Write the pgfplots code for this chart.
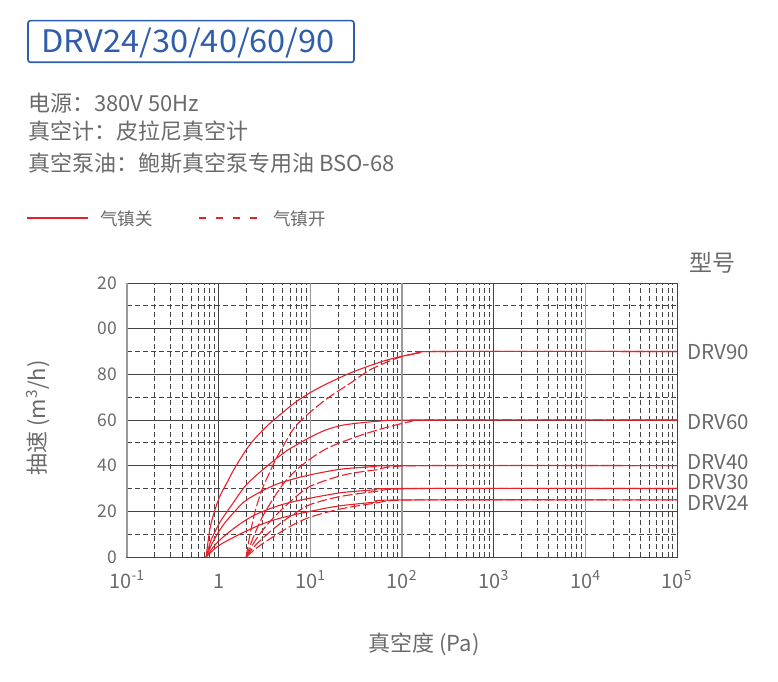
\documentclass[border=0pt]{standalone}
\usepackage{fontspec}
\setmainfont{Noto Sans CJK SC}
\usepackage{pgfplots}
\pgfplotsset{compat=1.18}
\definecolor{txtgray}{HTML}{6A6A6A}
\definecolor{titleblue}{HTML}{2E5DAA}
\definecolor{curvered}{HTML}{E8202A}
\definecolor{griddark}{HTML}{444444}
\definecolor{gridlight}{HTML}{9A9A9A}
\newcommand{\fs}[1]{\fontsize{#1}{#1}\selectfont}
\begin{document}
\begin{tikzpicture}[x=1pt,y=1pt]
\path[use as bounding box] (0,0) rectangle (778,681);
% title box
\draw[titleblue, line width=1.6pt, rounded corners=2.5pt] (28,660.3) rectangle (354,618.7);
\node[anchor=base west, inner sep=0pt, text=titleblue] at (41,628.6) {\scalebox{1.05}[1]{\fs{31}DRV24/30/40/60/90}};
% header
\node[anchor=west, inner sep=0pt, text=txtgray] at (28,577.5) {\fs{22}电源：380V 50Hz};
\node[anchor=west, inner sep=0pt, text=txtgray] at (28,549.5) {\fs{22}真空计：皮拉尼真空计};
\node[anchor=west, inner sep=0pt, text=txtgray] at (28,518) {\fs{22}真空泵油：鲍斯真空泵专用油 BSO-68};
% legend
\draw[curvered, line width=1.1pt] (27,463) -- (88,463);
\node[anchor=west, inner sep=0pt, text=txtgray] at (100,462) {\fs{17.5}气镇关};
\draw[curvered, line width=1.1pt, dash pattern=on 7pt off 10pt] (199,463) -- (262,463);
\node[anchor=west, inner sep=0pt, text=txtgray] at (273,462) {\fs{17.5}气镇开};
% model header
\node[anchor=west, inner sep=0pt, text=txtgray] at (689,418) {\fs{23}型号};
\begin{axis}[
  at={(127pt,124pt)}, anchor=south west, scale only axis,
  width=550pt, height=274pt,
  xmode=log, xmin=0.1, xmax=1e5, ymin=0, ymax=120,
  xtick={0.1,1,10,100,1000,10000,100000},
  xticklabels={10\textsuperscript{-1},1,10\textsuperscript{1},10\textsuperscript{2},10\textsuperscript{3},10\textsuperscript{4},10\textsuperscript{5}},
  ytick={0,20,...,120}, yticklabels={0,20,40,60,80,00,20},
  minor ytick={10,30,...,110},
  grid=both,
  major grid style={griddark, line width=1pt},
  minor grid style={griddark, line width=0.8pt, dash pattern=on 5pt off 3pt},
  axis line style={griddark, line width=1pt},
  tick style={draw=none},
  xticklabel style={font=\fs{20}, text=txtgray, anchor=base, inner sep=0pt, yshift=-31pt},
  yticklabel style={font=\fs{17.5}, text=txtgray, anchor=east, inner sep=0pt, xshift=-10pt},
  extra x ticks={0.1,10,100,10000},
  extra x tick labels={},
  extra x tick style={grid=major, major grid style={gridlight, line width=1.6pt}},
  clip=false,
]
% solid (gas ballast closed)
\addplot[curvered, line width=1.1pt, smooth] coordinates {(0.73,0)(0.8,12)(0.9,20)(1.04,27)(1.25,33)(1.45,38)(2,47)(2.5,52)(3.5,58)(4.9,63)(7,68)(10,72)(14.5,75.5)(27,80.5)(50,84.5)(80,87)(150,89.3)(250,90)(1e5,90)};
\addplot[curvered, line width=1.1pt, smooth] coordinates {(0.73,0)(0.82,7)(0.95,12.5)(1.08,16.5)(1.4,23)(1.94,31)(2.7,36.5)(3.8,41.5)(5.5,46.5)(7,49)(10,52.5)(14.5,55.5)(23,57.8)(53,59.4)(150,60)(1e5,60)};
\addplot[curvered, line width=1.1pt, smooth] coordinates {(0.73,0)(0.85,6)(1.0,11)(1.17,15)(1.5,20)(1.94,24.5)(3,29)(4.5,32.2)(7,34.5)(10,36)(14.5,37.3)(23,38.6)(50,39.6)(100,40)(1e5,40)};
\addplot[curvered, line width=1.1pt, smooth] coordinates {(0.73,0)(0.9,5)(1.1,8.5)(1.64,14)(2.5,18.5)(4.5,22.5)(7,24.5)(10,25.8)(14.5,27)(23,28.3)(50,29.4)(100,30)(1e5,30)};
\addplot[curvered, line width=1.1pt, smooth] coordinates {(0.73,0)(0.9,3.5)(1.1,6)(1.8,10.5)(3,14.5)(4.5,16.8)(7,18.7)(10,20)(20,22.3)(50,24)(100,25)(1e5,25)};
% dashed (gas ballast open)
\addplot[curvered, line width=1.1pt, smooth, dash pattern=on 10pt off 3pt] coordinates {(2,0)(2.2,10)(2.5,20)(3,30)(3.6,37)(4.1,42)(5.3,50)(6.8,57)(10,63.5)(16,70)(27,76)(45,82)(87,87)(150,89.3)(250,90)(1e5,90)};
\addplot[curvered, line width=1.1pt, smooth, dash pattern=on 10pt off 3pt] coordinates {(2,0)(2.3,7)(2.95,17)(4,26)(5.3,33)(7,38)(10,43)(16,48)(32,52.7)(63,56.4)(124,59.3)(200,60)(1e5,60)};
\addplot[curvered, line width=1.1pt, smooth, dash pattern=on 10pt off 3pt] coordinates {(2,0)(2.4,6)(3.2,13)(4.5,19.5)(6.8,26)(10,31)(23,35.9)(53,38.2)(150,40)(1e5,40)};
\addplot[curvered, line width=1.1pt, smooth, dash pattern=on 10pt off 3pt] coordinates {(2,0)(2.5,5)(3.5,10.5)(5,15.5)(7,19.5)(10,23)(20,26.3)(50,28.6)(150,30)(1e5,30)};
\addplot[curvered, line width=1.1pt, smooth, dash pattern=on 10pt off 3pt] coordinates {(2,0)(2.6,4)(3.8,8.5)(5.5,12.5)(7,14.8)(10,17.5)(20,20.8)(50,23.5)(150,25)(1e5,25)};
\end{axis}
% model labels
\node[anchor=west, inner sep=0pt, text=txtgray] at (687,329.3) {\fs{20.5}DRV90};
\node[anchor=west, inner sep=0pt, text=txtgray] at (687,259.3) {\fs{20.5}DRV60};
\node[anchor=west, inner sep=0pt, text=txtgray] at (687,219.3) {\fs{20.5}DRV40};
\node[anchor=west, inner sep=0pt, text=txtgray] at (687,199.3) {\fs{20.5}DRV30};
\node[anchor=west, inner sep=0pt, text=txtgray] at (687,177.7) {\fs{20.5}DRV24};
% axis labels
\node[inner sep=0pt, text=txtgray] at (424,37) {\fs{22}真空度 (Pa)};
\node[inner sep=0pt, text=txtgray, rotate=90] at (38,263) {\fs{22}抽速 (m\textsuperscript{3}/h)};
\end{tikzpicture}
\end{document}
